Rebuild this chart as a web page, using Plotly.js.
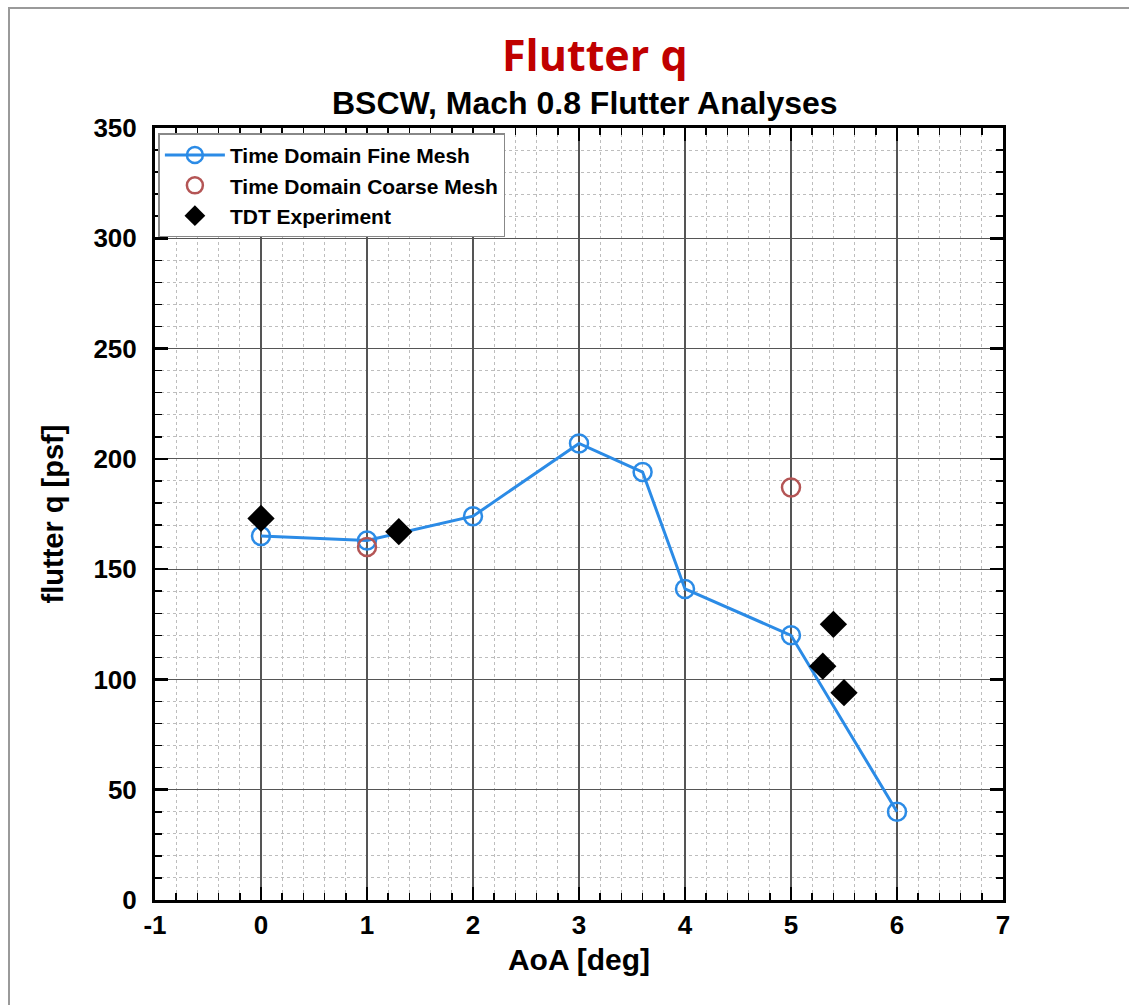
<!DOCTYPE html>
<html>
<head>
<meta charset="utf-8">
<script src="https://cdn.plot.ly/plotly-3.0.1.min.js"></script>
<style>
  html, body { margin:0; padding:0; background:#fff; }
  #frame { position:absolute; left:8px; top:7px; width:1121px; height:998px; border-top:2px solid #9a9a9a; border-left:2px solid #9a9a9a; box-sizing:border-box; pointer-events:none; z-index:5; }
  #chart { position:absolute; left:0; top:0; width:1129px; height:1005px; }
</style>
</head>
<body>
<div id="chart"></div>
<div id="frame"></div>
<script>
// Data
const fineAoA   = [0, 1, 2, 3, 3.6, 4, 5, 6];
const fineQ     = [165, 163, 174, 207, 194, 141, 120, 40];
const coarseAoA = [1, 5];
const coarseQ   = [160, 187];
const tdtAoA    = [0, 1.3, 5.4, 5.3, 5.5];
const tdtQ      = [173, 167, 125, 106, 94];
const xTicks    = [-1, 0, 1, 2, 3, 4, 5, 6, 7];
const yTicks    = [0, 50, 100, 150, 200, 250, 300, 350];

const blue = '#2b8be6';
const red  = '#b45555';
const fontFam = '"Liberation Sans", Arial, sans-serif';

const traces = [
  { x: fineAoA, y: fineQ, name: 'Time Domain Fine Mesh', mode: 'lines+markers', type: 'scatter',
    line: { color: blue, width: 3 },
    marker: { symbol: 'circle-open', size: 18, color: blue, line: { width: 2.5, color: blue } } },
  { x: coarseAoA, y: coarseQ, name: 'Time Domain Coarse Mesh', mode: 'markers', type: 'scatter',
    marker: { symbol: 'circle-open', size: 18, color: red, line: { width: 2.5, color: red } } },
  { x: tdtAoA, y: tdtQ, name: 'TDT Experiment', mode: 'markers', type: 'scatter',
    marker: { symbol: 'diamond', size: 21, color: '#000' } }
];

const axisCommon = {
  showline: true, linecolor: '#000', linewidth: 3, mirror: 'allticks',
  ticks: 'inside', ticklen: 13, tickwidth: 2.5, tickcolor: '#000',
  showgrid: true, gridcolor: '#555', gridwidth: 1.2,
  zeroline: false,
  tickfont: { family: fontFam, size: 26, color: '#000', weight: 'bold' }
};

const layout = {
  width: 1129, height: 1005,
  margin: { l: 155, r: 126, t: 128, b: 105 },
  paper_bgcolor: '#fff', plot_bgcolor: '#fff',
  showlegend: true,
  legend: {
    x: 0.004, y: 0.993, xanchor: 'left', yanchor: 'top',
    bgcolor: '#fff', bordercolor: '#888', borderwidth: 1.5,
    font: { family: fontFam, size: 21, color: '#000', weight: 'bold' },
    itemwidth: 60, tracegroupgap: 0
  },
  xaxis: Object.assign({}, axisCommon, {
    range: [-1, 7], tickvals: xTicks, ticktext: xTicks.map(String),
    ticklabelstandoff: 0,
    title: { text: 'AoA [deg]', standoff: 10, font: { family: fontFam, size: 30, color: '#000', weight: 'bold' } },
    minor: { dtick: 0.2, tick0: 0, showgrid: true, griddash: 'dot', gridcolor: '#bdbdbd', gridwidth: 1,
             ticks: 'inside', ticklen: 7, tickwidth: 1.5, tickcolor: '#000' }
  }),
  yaxis: Object.assign({}, axisCommon, {
    range: [0, 350], tickvals: yTicks, ticktext: yTicks.map(String),
    ticklabelstandoff: 10,
    title: { text: 'flutter q [psf]', standoff: 22, font: { family: fontFam, size: 29, color: '#000', weight: 'bold' } },
    minor: { dtick: 10, tick0: 0, showgrid: true, griddash: 'dot', gridcolor: '#bdbdbd', gridwidth: 1,
             ticks: 'inside', ticklen: 7, tickwidth: 1.5, tickcolor: '#000' }
  }),
  annotations: [
    { text: 'Flutter q', xref: 'paper', yref: 'paper', x: 0.519, y: 1.095, xanchor: 'center', yanchor: 'middle',
      showarrow: false, font: { family: '"Open Sans", sans-serif', size: 43, color: '#c00000', weight: 'bold' } },
    { text: 'BSCW, Mach 0.8 Flutter Analyses', xref: 'paper', yref: 'paper', x: 0.507, y: 1.033, xanchor: 'center', yanchor: 'middle',
      showarrow: false, font: { family: fontFam, size: 32, color: '#000', weight: 'bold' } }
  ]
};

Plotly.newPlot('chart', traces, layout, { displayModeBar: false, staticPlot: true });
</script>
</body>
</html>
